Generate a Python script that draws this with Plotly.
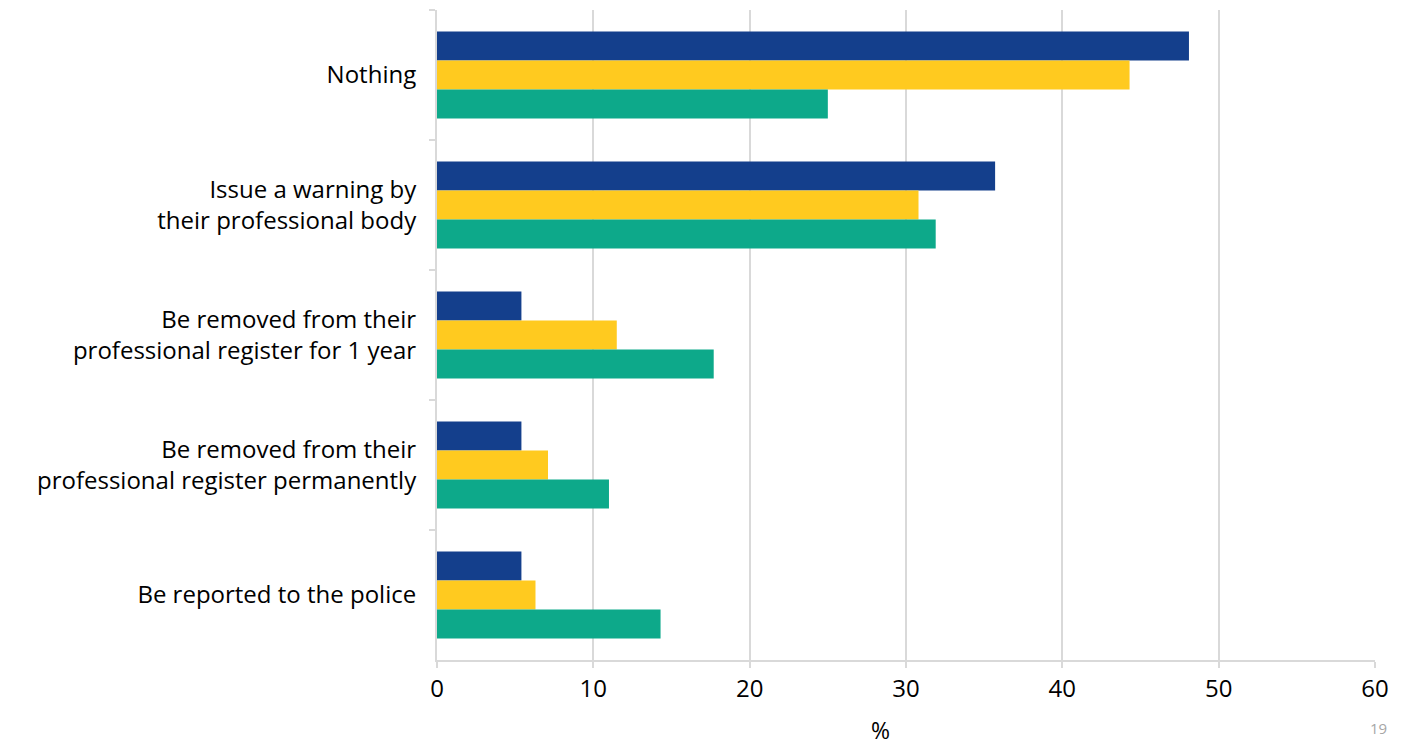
import plotly.graph_objects as go

categories = [
    "Nothing",
    "Issue a warning by<br>their professional body",
    "Be removed from their<br>professional register for 1 year",
    "Be removed from their<br>professional register permanently",
    "Be reported to the police",
]
series_names = ["Series 1", "Series 2", "Series 3"]
series_1 = [48.1, 35.7, 5.4, 5.4, 5.4]
series_2 = [44.3, 30.8, 11.5, 7.1, 6.3]
series_3 = [25.0, 31.9, 17.7, 11.0, 14.3]
colors = ["#143F8C", "#FFCA1F", "#0DA98A"]
x_ticks = [0, 10, 20, 30, 40, 50, 60]

fig = go.Figure()
for name, vals, col in zip(series_names, [series_1, series_2, series_3], colors):
    fig.add_trace(go.Bar(y=categories, x=vals, name=name, orientation="h",
                         marker=dict(color=col, line=dict(width=0))))

font = "Open Sans, Lato, sans-serif"
# page body has an 8px margin, so the figure is sized 8px smaller
fig.update_layout(
    width=1401, height=739,
    margin=dict(l=429, r=34, t=2, b=87),
    barmode="group", bargap=0.33, bargroupgap=0,
    plot_bgcolor="white", paper_bgcolor="white",
    showlegend=False,
    font=dict(family=font, size=24, color="#000000"),
    xaxis=dict(range=[0, 60], tickvals=x_ticks, showgrid=True, gridcolor="#D9D9D9",
               gridwidth=2, showline=True, linecolor="#D9D9D9", linewidth=2,
               ticks="outside", ticklen=6, tickcolor="#D9D9D9", tickwidth=2,
               zeroline=False, tickfont=dict(size=24)),
    yaxis=dict(autorange="reversed", showline=True, linecolor="#D9D9D9", linewidth=2,
               ticks="outside", ticklen=6, tickcolor="#D9D9D9", tickwidth=2,
               tickson="boundaries", showgrid=False, ticklabelstandoff=14,
               tickfont=dict(size=24)),
)
fig.add_annotation(text="%", x=(880 - 437) / 938, y=(652 - 722) / 650,
                   xref="paper", yref="paper", showarrow=False,
                   font=dict(size=23), xanchor="center", yanchor="middle")
fig.add_annotation(text="19", x=(1370 - 429) / 938, y=(652 - 720) / 650,
                   xref="paper", yref="paper", showarrow=False,
                   font=dict(size=15, color="#A6A6A6"), xanchor="center", yanchor="middle")
fig.write_html("out.html")
